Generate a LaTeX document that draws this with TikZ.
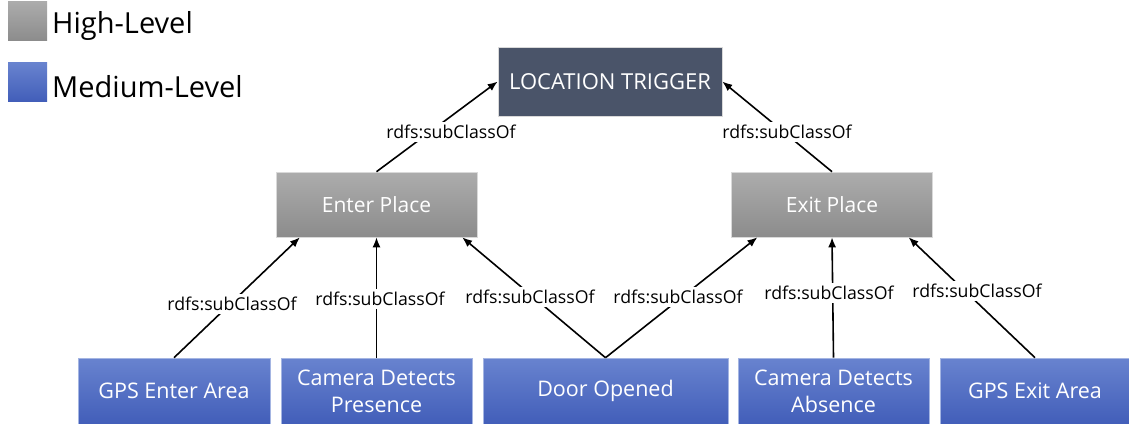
\documentclass[tikz,border=0pt]{standalone}
\usepackage{fontspec}
\setmainfont{Open Sans}
\usetikzlibrary{arrows.meta,calc}

\definecolor{trigger}{RGB}{74,84,105}
\definecolor{hiTop}{RGB}{172,172,172}
\definecolor{hiBot}{RGB}{140,140,140}
\definecolor{medTop}{RGB}{104,131,207}
\definecolor{medBot}{RGB}{66,94,185}

\tikzset{
  box/.style={rectangle, inner sep=2pt, align=center, text=white},
  toplevel/.style={box, fill=trigger, draw=white!85!black, line width=0.6pt,
    minimum width=224pt, minimum height=69pt, font=\fontsize{22}{26}\selectfont},
  highlevel/.style={box, top color=hiTop, bottom color=hiBot, draw=white!85!black,
    line width=0.6pt, minimum width=201pt, minimum height=65pt,
    font=\fontsize{21}{25}\selectfont},
  medlevel/.style={box, top color=medTop, bottom color=medBot, draw=medTop!60!white,
    line width=0.6pt, minimum height=66pt, font=\fontsize{21.5}{27}\selectfont},
  arr/.style={line width=1.6pt, -{Latex[length=10pt,width=8pt]}},
  lbl/.style={fill=white, inner sep=3pt, font=\fontsize{17.7}{20}\selectfont},
  legendtxt/.style={anchor=base west, inner sep=0pt, font=\fontsize{29}{33}\selectfont}
}

\begin{document}
\begin{tikzpicture}[x=1pt,y=-1pt]
\useasboundingbox (0,0) rectangle (1129,423);

% legend
\node[rectangle, top color=hiTop, bottom color=hiBot, minimum size=39pt, inner sep=0pt] (keyhi) at (27.5,21) {};
\node[legendtxt] (keyhitxt) at (52,33) {High-Level};
\node[rectangle, top color=medTop, bottom color=medBot, minimum size=39pt, inner sep=0pt] (keymed) at (27.5,82) {};
\node[legendtxt] (keymedtxt) at (52,97) {Medium-Level};

% classes
\node[toplevel] (trigger) at (610,81.5) {LOCATION TRIGGER};
\node[highlevel] (enter) at (376.5,204.5) {Enter Place};
\node[highlevel] (exit) at (832,204.5) {Exit Place};

\node[medlevel, minimum width=192pt] (gpsin) at (174,391) {GPS Enter Area};
\node[medlevel, minimum width=191pt] (campres) at (376.5,391) {Camera Detects\\Presence};
\node[medlevel, minimum width=245pt] (door) at (605.5,391) {Door Opened};
\node[medlevel, minimum width=191pt] (camabs) at (833.5,391) {Camera Detects\\Absence};
\node[medlevel, minimum width=190pt] (gpsout) at (1035,391) {GPS Exit Area};

% subclass relations
\draw[arr] (enter.north) -- (trigger.west);
\draw[arr] (exit.north) -- (trigger.east);
\draw[arr] (gpsin.north) -- ($(enter.south west)!0.12!(enter.south east)$);
\draw[arr] (campres.north) -- (enter.south);
\draw[arr] (door.north) -- ($(enter.south west)!0.925!(enter.south east)$);
\draw[arr] (door.north) -- ($(exit.south west)!0.13!(exit.south east)$);
\draw[arr] (camabs.north) -- (exit.south);
\draw[arr] (gpsout.north) -- ($(exit.south west)!0.88!(exit.south east)$);

% relation labels
\node[lbl] (l1) at (451,132) {rdfs:subClassOf};
\node[lbl] (l2) at (787,132) {rdfs:subClassOf};
\node[lbl] (l3) at (232,304) {rdfs:subClassOf};
\node[lbl] (l4) at (380,299) {rdfs:subClassOf};
\node[lbl] (l5) at (530,297) {rdfs:subClassOf};
\node[lbl] (l6) at (678,297) {rdfs:subClassOf};
\node[lbl] (l7) at (829,293) {rdfs:subClassOf};
\node[lbl] (l8) at (977,291) {rdfs:subClassOf};
\end{tikzpicture}
\end{document}
